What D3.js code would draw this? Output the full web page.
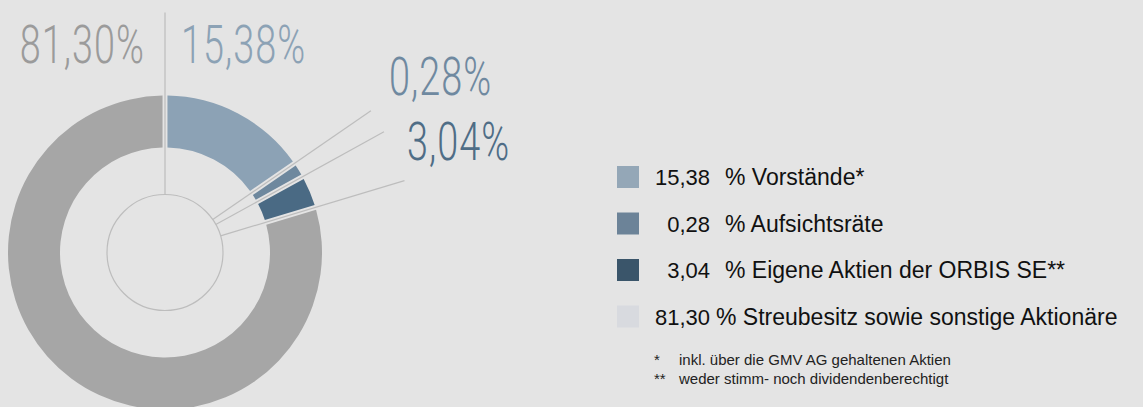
<!DOCTYPE html>
<html>
<head>
<meta charset="utf-8">
<script src="https://cdn.jsdelivr.net/npm/d3@7"></script>
<style>
    html, body { margin: 0; padding: 0; background: #e4e4e4; }
    svg { display: block; }
</style>
</head>
<body>
<svg id="grafico" width="1143" height="407"></svg>
<script>
// dados -----------------------------------------------------------
const shareholders = ["Vorstände*", "Aufsichtsräte", "Eigene Aktien der ORBIS SE**", "Streubesitz sowie sonstige Aktionäre"];
const shares = [15.38, 0.28, 3.04, 81.30];
const footnoteMarks = ["*", "**"];
const footnoteTexts = ["inkl. über die GMV AG gehaltenen Aktien", "weder stimm- noch dividendenberechtigt"];

// estilo ----------------------------------------------------------
const sliceColors  = ["#8ca2b5", "#6e889e", "#4a6a84", "#a6a6a6"];
const labelColors  = ["#8ca2b5", "#6f89a0", "#4f6d86", "#9b9b9b"];
const legendColors = ["#94a7b7", "#6c8398", "#3a556a", "#d8dadf"];
const lineColor = "#bdbdbd";

// posicao dos rotulos grandes (layout, nao dados)
const labelPos = [
    {x: 181, y: 63, anchor: "start"},
    {x: 389, y: 95, anchor: "start"},
    {x: 407, y: 160, anchor: "start"},
    {x: 145, y: 63, anchor: "end"}
];

const cx = 165, cy = 252.5;
const rHub = 58, rInner = 105, rOuter = 157;

function formatarValor(v) {
    return v.toFixed(2).replace(".", ",");
}

let svg = d3.select("#grafico");
let g = svg.append("g").attr("transform", "translate(" + cx + "," + cy + ")");

// -- donut ---------------------------------------------------------
// a fatia de 0,28 fica invisivel no tamanho real, entao usa um minimo so para desenhar
let pie = d3.pie().sort(null).value(function(d) { return Math.max(d, 1.2); }).padAngle(0.026);
let arcs = pie(shares);
let arc = d3.arc().innerRadius(rInner).outerRadius(rOuter);

g.selectAll(".slice")
    .data(arcs)
    .enter()
    .append("path")
    .attr("d", arc)
    .attr("fill", function(d, i) { return sliceColors[i]; });

// circulo central
g.append("circle")
    .attr("r", rHub)
    .attr("fill", "none")
    .attr("stroke", lineColor)
    .attr("stroke-width", 1.2);

// linhas nas divisoes
g.selectAll(".leader")
    .data(arcs)
    .enter()
    .append("line")
    .attr("x1", function(d) { return Math.sin(d.startAngle) * rHub; })
    .attr("y1", function(d) { return -Math.cos(d.startAngle) * rHub; })
    .attr("x2", function(d) { let r = d.startAngle === 0 ? 240 : 250; return Math.sin(d.startAngle) * r; })
    .attr("y2", function(d) { let r = d.startAngle === 0 ? 240 : 250; return -Math.cos(d.startAngle) * r; })
    .attr("stroke", lineColor)
    .attr("stroke-width", 1.2);

// rotulos grandes
shares.forEach(function(v, i) {
    svg.append("text")
        .attr("transform", "translate(" + labelPos[i].x + "," + labelPos[i].y + ") scale(0.7,1)")
        .attr("text-anchor", labelPos[i].anchor)
        .style("font-family", "Roboto, sans-serif")
        .style("font-weight", 300)
        .style("font-size", "54px")
        .style("letter-spacing", "1.5px")
        .attr("fill", labelColors[i])
        .text(formatarValor(v) + "%");
});

// -- legenda -------------------------------------------------------
let legend = svg.append("g").style("font-family", "'Liberation Sans', Arial, sans-serif");
shares.forEach(function(v, i) {
    let yc = 177 + i * 46.5;
    legend.append("rect")
        .attr("x", 617).attr("y", yc - 11)
        .attr("width", 22).attr("height", 22)
        .attr("fill", legendColors[i]);
    legend.append("text")
        .attr("x", 710).attr("y", yc + 8)
        .attr("text-anchor", "end")
        .style("font-size", "22px")
        .attr("fill", "#111")
        .text(formatarValor(v));
    legend.append("text")
        .attr("x", i < 3 ? 725 : 716).attr("y", yc + 8)
        .style("font-size", "23px")
        .attr("fill", "#111")
        .text("% " + shareholders[i]);
});

footnoteTexts.forEach(function(t, i) {
    let y = 364.5 + i * 19;
    legend.append("text")
        .attr("x", 654).attr("y", y)
        .style("font-size", "15px")
        .attr("fill", "#222")
        .text(footnoteMarks[i]);
    legend.append("text")
        .attr("x", 679).attr("y", y)
        .style("font-size", "15px")
        .attr("fill", "#222")
        .text(t);
});
</script>
</body>
</html>
